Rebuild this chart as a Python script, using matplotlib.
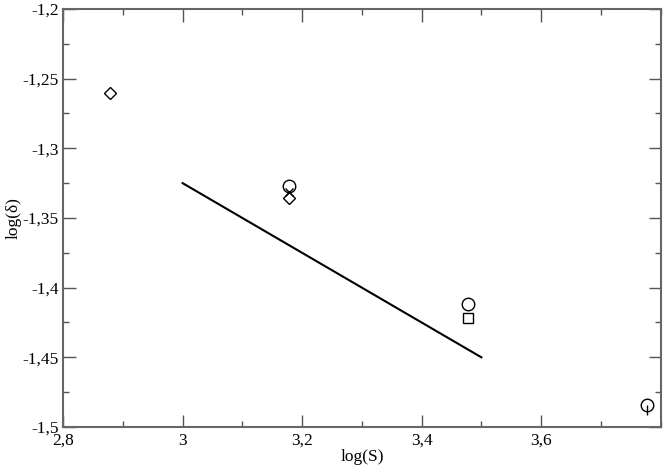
import numpy as np
import matplotlib
matplotlib.use('Agg')
import matplotlib.pyplot as plt
from matplotlib.ticker import MultipleLocator, FuncFormatter

# data
diamond_x = [2.878, 3.178]
diamond_y = [-1.260, -1.336]
circle_x = [3.178, 3.477, 3.777]
circle_y = [-1.327, -1.412, -1.484]
cross_x = [3.178]
cross_y = [-1.331]
square_x = [3.477]
square_y = [-1.422]
tick_x = [3.777]
tick_y = [-1.484]
fit_x = [3.0, 3.5]
fit_y = [-1.325, -1.450]

plt.rcParams['font.family'] = ['Liberation Serif', 'DejaVu Serif']

fig = plt.figure(figsize=(6.64, 4.71), dpi=100)
ax = fig.add_axes([0.095, 0.0934, 0.9, 0.8876])

mk = dict(linestyle='none', markerfacecolor='none', markeredgecolor='black',
          markeredgewidth=1.0, color='black')
ax.plot(diamond_x, diamond_y, marker='D', markersize=6.5, **mk)
ax.plot(circle_x, circle_y, marker='o', markersize=9, **mk)
ax.plot(cross_x, cross_y, marker='x', markersize=6, **mk)
ax.plot(square_x, square_y, marker='s', markersize=7.5, **mk)
ax.plot(tick_x, tick_y, marker=3, markersize=7.5, **mk)
ax.plot(fit_x, fit_y, color='black', linewidth=1.5)

ax.set_xlim(2.8, 3.8)
ax.set_ylim(-1.5, -1.2)
ax.xaxis.set_major_locator(MultipleLocator(0.2))
ax.xaxis.set_minor_locator(MultipleLocator(0.1))
ax.yaxis.set_major_locator(MultipleLocator(0.05))
ax.yaxis.set_minor_locator(MultipleLocator(0.025))

comma = FuncFormatter(lambda v, pos: ('%g' % round(v, 4)).replace('.', ','))
ax.xaxis.set_major_formatter(comma)
ax.yaxis.set_major_formatter(comma)
# last x label (3,8) is not shown in the original
ax.set_xticks([2.8, 3.0, 3.2, 3.4, 3.6])

ax.tick_params(which='both', direction='in', top=True, right=True,
               color='#555555', labelsize=12.5)
ax.tick_params(axis='x', pad=4)
ax.tick_params(axis='y', pad=3)
ax.tick_params(which='major', length=9, width=1)
ax.tick_params(which='minor', length=4.5, width=1)
for s in ax.spines.values():
    s.set_color('#666666')
    s.set_linewidth(1.5)

ax.set_xlabel('log(S)', fontsize=12.5, labelpad=0)
ax.set_ylabel('log(δ)', fontsize=12.5, labelpad=1)

plt.savefig('out.png', dpi=100)
